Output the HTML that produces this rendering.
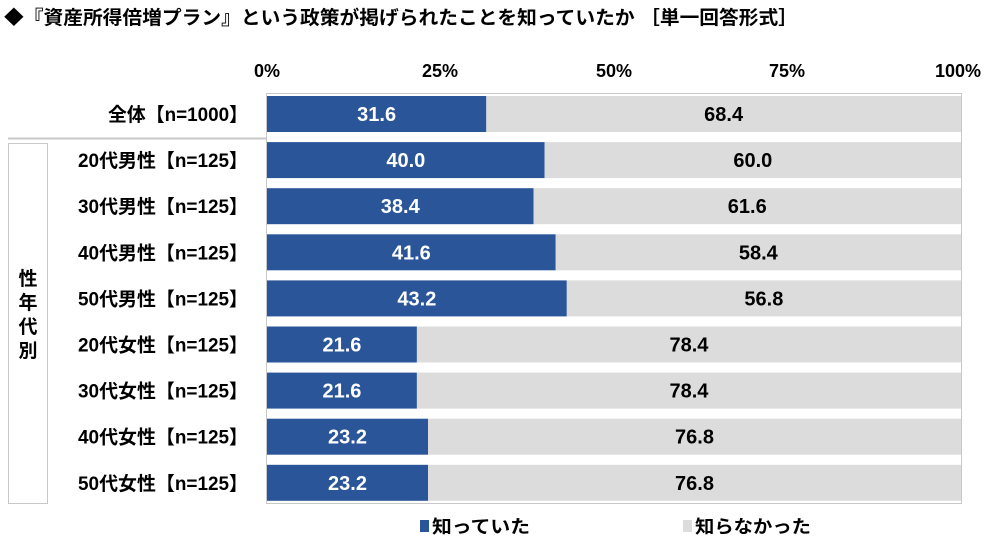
<!DOCTYPE html><html><head><meta charset="utf-8"><style>
body{margin:0;width:1000px;height:551px;background:#fff;font-family:"Liberation Sans","Noto Sans CJK JP",sans-serif;position:relative;overflow:hidden;font-weight:bold}
.a{position:absolute}
</style></head><body>
<svg class="a" style="left:0;top:0" width="1000" height="551" font-family="Liberation Sans, Noto Sans CJK JP, sans-serif" font-weight="bold">
<text x="4" y="24" font-size="19" textLength="794" lengthAdjust="spacingAndGlyphs">◆『資産所得倍増プラン』という政策が掲げられたことを知っていたか ［単一回答形式］</text>
<g font-size="18" text-anchor="middle" fill="#000">
<text x="267" y="77">0%</text><text x="440" y="77">25%</text><text x="614" y="77">50%</text><text x="787" y="77">75%</text><text x="958" y="77">100%</text>
</g>
<rect x="266.5" y="93.5" width="695" height="410" fill="none" stroke="#c8c8c8"/>
<line x1="8" y1="138.5" x2="267" y2="138.5" stroke="#c8c8c8" stroke-width="2"/>
<rect x="8.5" y="143.5" width="39" height="360" fill="none" stroke="#c8c8c8"/>
<g id="bars" font-size="20" text-anchor="middle"></g>
<g font-size="19" id="labs"></g>
<text font-size="19" x="28" text-anchor="middle"><tspan x="28" y="285">性</tspan><tspan x="28" y="309">年</tspan><tspan x="28" y="333">代</tspan><tspan x="28" y="357">別</tspan></text>
<rect x="420" y="520" width="9" height="12" fill="#2a5599"/>
<text x="432" y="533" font-size="18" textLength="98" lengthAdjust="spacingAndGlyphs">知っていた</text>
<rect x="683" y="520" width="9" height="12" fill="#dcdcdc"/>
<text x="695" y="533" font-size="18" textLength="116" lengthAdjust="spacingAndGlyphs">知らなかった</text>
</svg>
<script>
var d=[["全体【n=1000】",31.6],["20代男性【n=125】",40.0],["30代男性【n=125】",38.4],["40代男性【n=125】",41.6],["50代男性【n=125】",43.2],["20代女性【n=125】",21.6],["30代女性【n=125】",21.6],["40代女性【n=125】",23.2],["50代女性【n=125】",23.2]];
var b="",l="",x0=267,W=694;
d.forEach(function(r,i){var c=114+i*46.1,y=c-18,w=W*r[1]/100;
b+='<rect x="'+x0+'" y="'+y+'" width="'+w+'" height="36" fill="#2a5599"/>';
b+='<rect x="'+(x0+w)+'" y="'+y+'" width="'+(W-w)+'" height="36" fill="#dcdcdc"/>';
b+='<text x="'+(x0+w/2)+'" y="'+(c+7)+'" fill="#fff">'+r[1].toFixed(1)+'</text>';
b+='<text x="'+(x0+w+(W-w)/2)+'" y="'+(c+7)+'" fill="#000">'+(100-r[1]).toFixed(1)+'</text>';
var tl=i==0?140:170;
l+='<text x="'+(248-tl)+'" y="'+(c+7)+'" textLength="'+tl+'" lengthAdjust="spacingAndGlyphs">'+r[0]+'</text>';});
document.getElementById("bars").innerHTML=b;document.getElementById("labs").innerHTML=l;
</script>
</body></html>
